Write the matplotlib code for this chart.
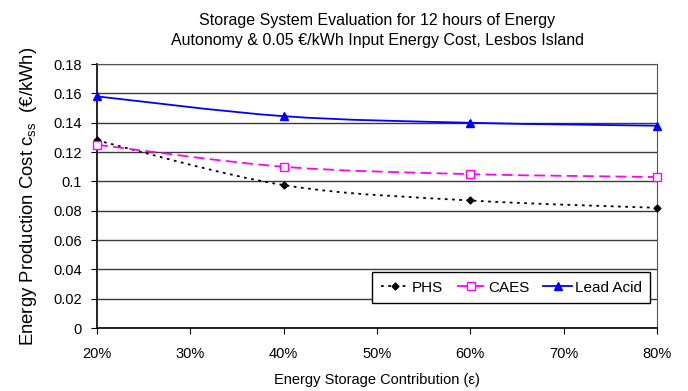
import numpy as np
import matplotlib
matplotlib.use("Agg")
import matplotlib.pyplot as plt
from matplotlib.path import Path
from matplotlib.patches import PathPatch
from matplotlib.lines import Line2D

plt.rcParams['font.family'] = ['Liberation Sans', 'DejaVu Sans']
plt.rcParams['mathtext.fontset'] = 'custom'
plt.rcParams['mathtext.rm'] = 'Liberation Sans'
plt.rcParams['mathtext.it'] = 'Liberation Sans:italic'

contribution = [0.2, 0.4, 0.6, 0.8]
phs = [0.128, 0.0975, 0.087, 0.082]
caes = [0.125, 0.110, 0.105, 0.103]
lead_acid = [0.158, 0.1445, 0.140, 0.138]

x_ticks = [0.2, 0.3, 0.4, 0.5, 0.6, 0.7, 0.8]
x_labels = ['20%', '30%', '40%', '50%', '60%', '70%', '80%']
y_ticks = [0, 0.02, 0.04, 0.06, 0.08, 0.1, 0.12, 0.14, 0.16, 0.18]
y_labels = ['0', '0.02', '0.04', '0.06', '0.08', '0.1', '0.12', '0.14', '0.16', '0.18']


def smooth_path(xs, ys):
    # Excel-like smoothed line: cubic bezier with catmull-rom control points
    pts = np.column_stack([xs, ys])
    verts = [pts[0]]
    codes = [Path.MOVETO]
    n = len(pts)
    for i in range(n - 1):
        p0 = pts[i - 1] if i > 0 else pts[i]
        p1 = pts[i]
        p2 = pts[i + 1]
        p3 = pts[i + 2] if i + 2 < n else pts[i + 1]
        c1 = p1 + (p2 - p0) / 6.0
        c2 = p2 - (p3 - p1) / 6.0
        verts += [c1, c2, p2]
        codes += [Path.CURVE4] * 3
    return Path(verts, codes)


fig = plt.figure(figsize=(6.88, 3.91), dpi=100)
ax = fig.add_axes([0.141, 0.161, 0.814, 0.675])

series = [
    (phs, 'PHS', 'black', (0, (1.5, 2.5)), 'D', 'black', 3.5),
    (caes, 'CAES', '#ff00ff', (0, (6, 3)), 's', 'white', 6),
    (lead_acid, 'Lead Acid', '#0000ff', '-', '^', '#0000ff', 6),
]
handles = []
for vals, name, col, ls, mk, mfc, ms in series:
    patch = PathPatch(smooth_path(contribution, vals), facecolor='none',
                      edgecolor=col, linestyle=ls, linewidth=1.3, zorder=3)
    ax.add_patch(patch)
    ax.plot(contribution, vals, linestyle='none', marker=mk, color=col,
            markerfacecolor=mfc, markeredgecolor=col, markersize=ms, zorder=4,
            clip_on=False)
    handles.append(Line2D([], [], color=col, linestyle=ls, linewidth=1.3,
                          marker=mk, markerfacecolor=mfc, markeredgecolor=col,
                          markersize=ms, label=name))

ax.set_xlim(0.2, 0.8)
ax.set_ylim(0, 0.18)
ax.set_xticks(x_ticks)
ax.set_xticklabels(x_labels)
ax.set_yticks(y_ticks)
ax.set_yticklabels(y_labels)
ax.tick_params(axis='x', direction='out', length=4, labelsize=10.5, pad=10, color='black')
ax.tick_params(axis='y', direction='out', length=4, labelsize=10.5, pad=7, color='black')
ax.yaxis.grid(True, color='#3a3a3a', linewidth=1)
ax.set_axisbelow(True)
for side in ['top', 'right']:
    ax.spines[side].set_color('#555555')
for side in ['left', 'bottom']:
    ax.spines[side].set_color('black')
    ax.spines[side].set_linewidth(1.2)

ax.set_xlabel('Energy Storage Contribution (ε)', fontsize=10.5, labelpad=8)
ax.set_ylabel('Energy Production Cost c$_{\\rm ss}$  (€/kWh)', fontsize=13.3, labelpad=10)
ax.set_title('Storage System Evaluation for 12 hours of Energy\n'
             'Autonomy & 0.05 €/kWh Input Energy Cost, Lesbos Island',
             fontsize=11.5, pad=14, linespacing=1.4)

leg = ax.legend(handles=handles, ncol=3, loc='lower right',
                bbox_to_anchor=(0.9875, 0.095), fontsize=11, frameon=True,
                fancybox=False, edgecolor='black', framealpha=1,
                handlelength=1.9, handletextpad=0.15, columnspacing=0.9,
                borderpad=0.55, borderaxespad=0)
leg.get_frame().set_linewidth(1)

fig.savefig('out.png', dpi=100)
